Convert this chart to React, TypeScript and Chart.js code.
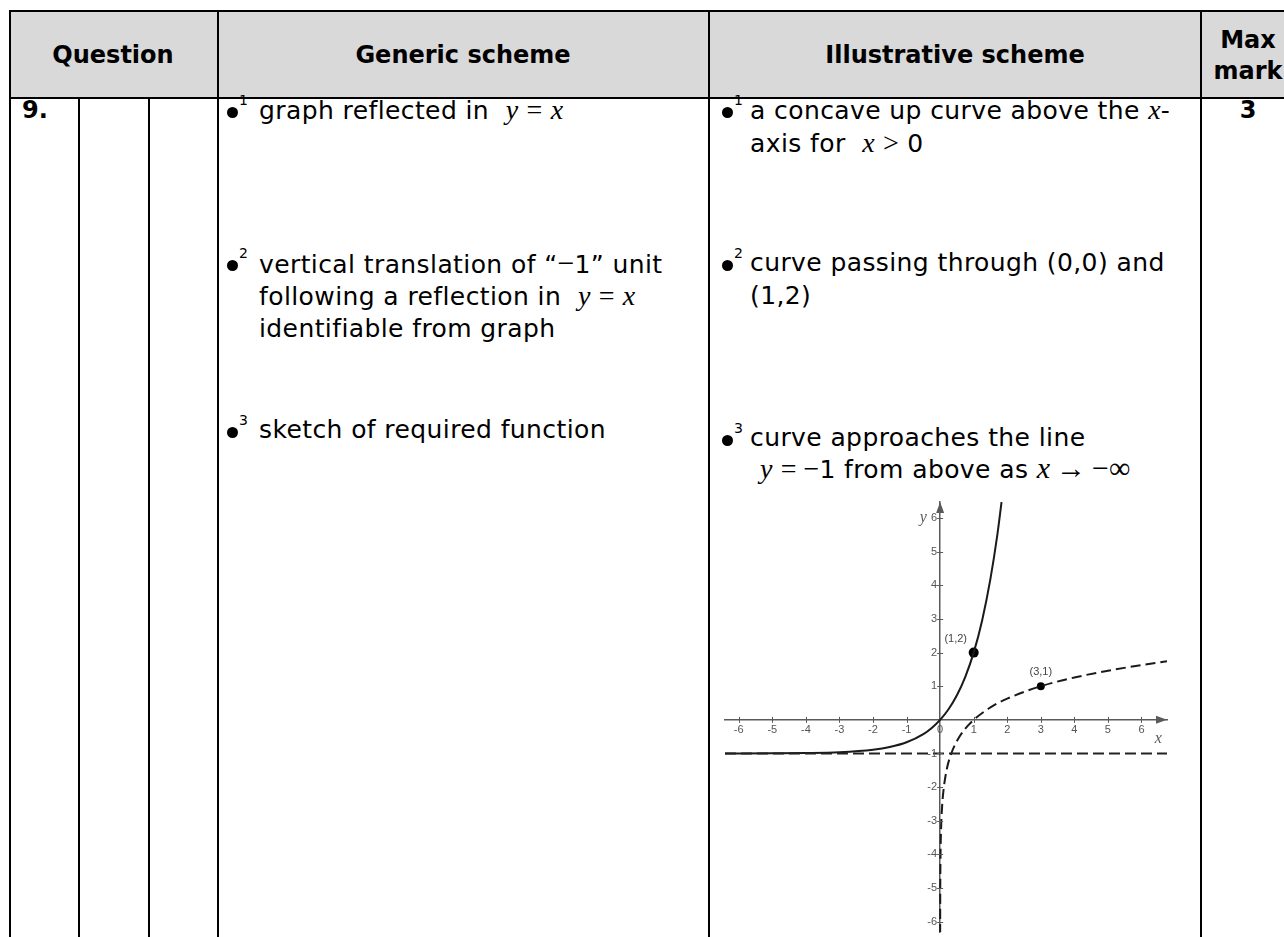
import React, { useEffect, useRef } from "react";
import { Chart, registerables } from "chart.js";

Chart.register(...registerables);

// ---- data ----
const solidX = [-6.41, -5, -4, -3, -2, -1.5, -1, -0.5, -0.25, 0, 0.25, 0.5, 0.75, 1, 1.25, 1.5, 1.7, 1.83];
const solidY = [-1.0, -0.996, -0.988, -0.963, -0.889, -0.808, -0.667, -0.423, -0.24, 0, 0.316, 0.732, 1.28, 2, 2.95, 4.2, 5.47, 6.48];
const logX = [0.0009, 0.003, 0.01, 0.03, 0.06, 0.1, 0.2, 0.333, 0.5, 0.75, 1, 1.5, 2, 3, 4, 5, 6, 6.76];
const logY = [-6.37, -5.29, -4.19, -3.19, -2.56, -2.1, -1.46, -1.0, -0.63, -0.26, 0, 0.37, 0.63, 1, 1.26, 1.46, 1.63, 1.74];
const asymX = [-6.41, 6.76];
const asymY = [-1, -1];
const markX = [1, 3];
const markY = [2, 1];
const markLabels = ["(1,2)", "(3,1)"];
const xTickValues = [-6, -5, -4, -3, -2, -1, 0, 1, 2, 3, 4, 5, 6];
const xTickLabels = ["-6", "-5", "-4", "-3", "-2", "-1", "0", "1", "2", "3", "4", "5", "6"];
const yTickValues = [-6, -5, -4, -3, -2, -1, 1, 2, 3, 4, 5, 6];
const yTickLabels = ["-6", "-5", "-4", "-3", "-2", "-1", "1", "2", "3", "4", "5", "6"];
const xRange = [-6.41, 6.76];
const yRange = [-6.31, 6.48];

const pts = (xs: number[], ys: number[]) => xs.map((x, i) => ({ x, y: ys[i] }));

const AXIS = "#5a5a5a";

const overlayPlugin = {
  id: "overlay",
  afterDatasetsDraw(chart: any) {
    const { ctx } = chart;
    const xs = chart.scales.x;
    const ys = chart.scales.y;
    const x0 = xs.getPixelForValue(0);
    const y0 = ys.getPixelForValue(0);
    ctx.save();
    // tick marks crossing the axes
    ctx.strokeStyle = AXIS;
    ctx.lineWidth = 1;
    ctx.beginPath();
    xTickValues.forEach((v) => {
      if (v === 0) return;
      const px = Math.round(xs.getPixelForValue(v)) + 0.5;
      ctx.moveTo(px, y0 - 3);
      ctx.lineTo(px, y0 + 3);
    });
    yTickValues.forEach((v) => {
      const py = Math.round(ys.getPixelForValue(v)) + 0.5;
      ctx.moveTo(x0 - 3, py);
      ctx.lineTo(x0 + 3, py);
    });
    ctx.stroke();
    // y tick labels
    ctx.fillStyle = "#555";
    ctx.font = '11px "Liberation Sans"';
    ctx.textAlign = "right";
    ctx.textBaseline = "middle";
    yTickValues.forEach((v, i) => {
      ctx.fillText(yTickLabels[i], x0 - 3, ys.getPixelForValue(v));
    });
    // arrow heads
    ctx.fillStyle = AXIS;
    ctx.beginPath();
    ctx.moveTo(xs.right, y0);
    ctx.lineTo(xs.right - 11, y0 - 4);
    ctx.lineTo(xs.right - 11, y0 + 4);
    ctx.closePath();
    ctx.fill();
    ctx.beginPath();
    ctx.moveTo(x0, ys.top);
    ctx.lineTo(x0 - 4, ys.top + 11);
    ctx.lineTo(x0 + 4, ys.top + 11);
    ctx.closePath();
    ctx.fill();
    // axis names
    ctx.font = 'italic 16px "Liberation Serif"';
    ctx.textAlign = "center";
    ctx.fillText("x", xs.getPixelForValue(6.5), ys.getPixelForValue(-0.55));
    ctx.fillText("y", xs.getPixelForValue(-0.5), ys.getPixelForValue(6.0));
    // point labels
    ctx.fillStyle = "#444";
    ctx.font = '11px "Liberation Sans"';
    markLabels.forEach((lab, i) => {
      const px = xs.getPixelForValue(markX[i]) + (i === 0 ? -18 : 0);
      const py = ys.getPixelForValue(markY[i]) - 14;
      ctx.fillText(lab, px, py);
    });
    ctx.restore();
  },
};

function Graph() {
  const ref = useRef<HTMLCanvasElement>(null);
  useEffect(() => {
    if (!ref.current) return;
    const chart = new Chart(ref.current, {
      type: "scatter",
      data: {
        datasets: [
          {
            data: pts(asymX, asymY),
            showLine: true,
            borderColor: "#222",
            borderWidth: 2,
            borderDash: [11, 5],
            pointRadius: 0,
          },
          {
            data: pts(solidX, solidY),
            showLine: true,
            borderColor: "#1a1a1a",
            borderWidth: 2,
            pointRadius: 0,
            cubicInterpolationMode: "monotone",
          },
          {
            data: pts(logX, logY),
            showLine: true,
            borderColor: "#1a1a1a",
            borderWidth: 2,
            borderDash: [10, 5],
            pointRadius: 0,
            cubicInterpolationMode: "monotone",
          },
          {
            data: pts(markX, markY),
            showLine: false,
            backgroundColor: "#000",
            borderColor: "#000",
            pointRadius: [5, 4],
            pointBorderWidth: 0,
          },
        ],
      } as any,
      options: {
        animation: false,
        responsive: false,
        events: [],
        layout: { padding: 0 },
        plugins: { legend: { display: false }, tooltip: { enabled: false } },
        scales: {
          x: {
            type: "linear",
            min: xRange[0],
            max: xRange[1],
            position: { y: 0 } as any,
            afterBuildTicks: (axis: any) => {
              axis.ticks = xTickValues.map((v) => ({ value: v }));
            },
            grid: { drawOnChartArea: false, drawTicks: false, tickLength: 3, color: AXIS, lineWidth: 1 },
            border: { display: true, color: AXIS, width: 1.5 },
            ticks: {
              color: "#555",
              font: { family: "Liberation Sans", size: 11 },
              padding: 4,
              maxRotation: 0,
              autoSkip: false,
              callback: (v: any) => xTickLabels[xTickValues.indexOf(v)] ?? "",
            },
          },
          y: {
            type: "linear",
            min: yRange[0],
            max: yRange[1],
            position: { x: 0 } as any,
            afterBuildTicks: (axis: any) => {
              axis.ticks = yTickValues.map((v) => ({ value: v }));
            },
            grid: { drawOnChartArea: false, drawTicks: false, color: AXIS, lineWidth: 1 },
            border: { display: true, color: AXIS, width: 1.5 },
            ticks: { display: false },
          },
        },
      },
      plugins: [overlayPlugin],
    });
    return () => chart.destroy();
  }, []);
  return (
    <canvas
      ref={ref}
      width={452}
      height={440}
      style={{ position: "absolute", left: 720, top: 497, width: 452, height: 440 }}
    />
  );
}

const SANS = '"DejaVu Sans", sans-serif';
const SERIF = '"Liberation Serif", serif';

const M = ({ children, italic = true, size = 28 }: any) => (
  <span style={{ fontFamily: SERIF, fontStyle: italic ? "italic" : "normal", fontSize: size, letterSpacing: 0 }}>
    {children}
  </span>
);

const Line = ({ left, cy, children, bold = false, center = false }: any) => (
  <div
    style={{
      position: "absolute",
      left: center ? left - 200 : left,
      width: center ? 400 : undefined,
      textAlign: center ? "center" : "left",
      top: cy - 16,
      height: 28,
      lineHeight: "28px",
      fontFamily: SANS,
      fontSize: bold ? 24 : 25,
      letterSpacing: bold ? 0 : 0.4,
      fontWeight: bold ? "bold" : "normal",
      whiteSpace: "nowrap",
      color: "#000",
    }}
  >
    {children}
  </div>
);

const Bullet = ({ left, cy, n }: any) => (
  <div style={{ position: "absolute", left, top: cy - 6, height: 12, width: 24 }}>
    <span
      style={{
        position: "absolute",
        left: 0,
        top: 1,
        width: 11,
        height: 11,
        borderRadius: "50%",
        background: "#000",
      }}
    />
    <span
      style={{
        position: "absolute",
        left: 12,
        top: -13,
        fontFamily: SANS,
        fontSize: 14,
        lineHeight: "14px",
      }}
    >
      {n}
    </span>
  </div>
);

const VLine = ({ x, y1, y2 }: any) => (
  <div style={{ position: "absolute", left: x - 1, top: y1, width: 2, height: y2 - y1, background: "#000" }} />
);
const HLine = ({ y, x1, x2, h = 2 }: any) => (
  <div style={{ position: "absolute", left: x1, top: y - h / 2, width: x2 - x1, height: h, background: "#000" }} />
);

export default function App() {
  const L = 259;
  const LB = 227;
  const R = 750;
  const RB = 722;
  return (
    <div
      style={{
        position: "absolute",
        left: 0,
        top: 0,
        width: 1284,
        height: 937,
        overflow: "hidden",
        background: "#fff",
      }}
    >
      <div style={{ position: "absolute", left: 9, top: 11, width: 1284, height: 87, background: "#d9d9d9" }} />
      <HLine y={11} x1={9} x2={1284} h={2} />
      <HLine y={98} x1={9} x2={1284} h={2} />
      <VLine x={10} y1={10} y2={937} />
      <VLine x={218} y1={10} y2={937} />
      <VLine x={709} y1={10} y2={937} />
      <VLine x={1201} y1={10} y2={937} />
      <VLine x={79} y1={98} y2={937} />
      <VLine x={149} y1={98} y2={937} />

      <Line left={113} cy={57} bold center>Question</Line>
      <Line left={463} cy={57} bold center>Generic scheme</Line>
      <Line left={955} cy={57} bold center>Illustrative scheme</Line>
      <Line left={1248} cy={42} bold center>Max</Line>
      <Line left={1248} cy={73} bold center>mark</Line>

      <Line left={22} cy={112} bold>9.</Line>
      <Line left={1248} cy={112} bold center>3</Line>

      <Bullet left={LB} cy={112} n="1" />
      <Line left={L} cy={112}>graph reflected in&nbsp; <M>y</M> <M italic={false}>=</M> <M>x</M></Line>

      <Bullet left={LB} cy={265} n="2" />
      <Line left={L} cy={265}>vertical translation of “<M italic={false} size={30}>−</M>1” unit</Line>
      <Line left={L} cy={298}>following a reflection in&nbsp; <M>y</M> <M italic={false}>=</M> <M>x</M></Line>
      <Line left={L} cy={331}>identifiable from graph</Line>

      <Bullet left={LB} cy={432} n="3" />
      <Line left={L} cy={432}>sketch of required function</Line>

      <Bullet left={RB} cy={112} n="1" />
      <Line left={R} cy={112}>a concave up curve above the <M>x</M>-</Line>
      <Line left={R} cy={145}>axis for&nbsp; <M>x</M> <M italic={false}>&gt;</M> 0</Line>

      <Bullet left={RB} cy={265} n="2" />
      <Line left={R} cy={265}>curve passing through (0,0) and</Line>
      <Line left={R} cy={298}>(1,2)</Line>

      <Bullet left={RB} cy={440} n="3" />
      <Line left={R} cy={440}>curve approaches the line</Line>
      <Line left={760} cy={470}>
        <M>y</M> <M italic={false}>= −</M>1 from above as <M size={30}>x</M><M italic={false} size={30}>&thinsp;→&thinsp;−∞</M>
      </Line>

      <Graph />
    </div>
  );
}
